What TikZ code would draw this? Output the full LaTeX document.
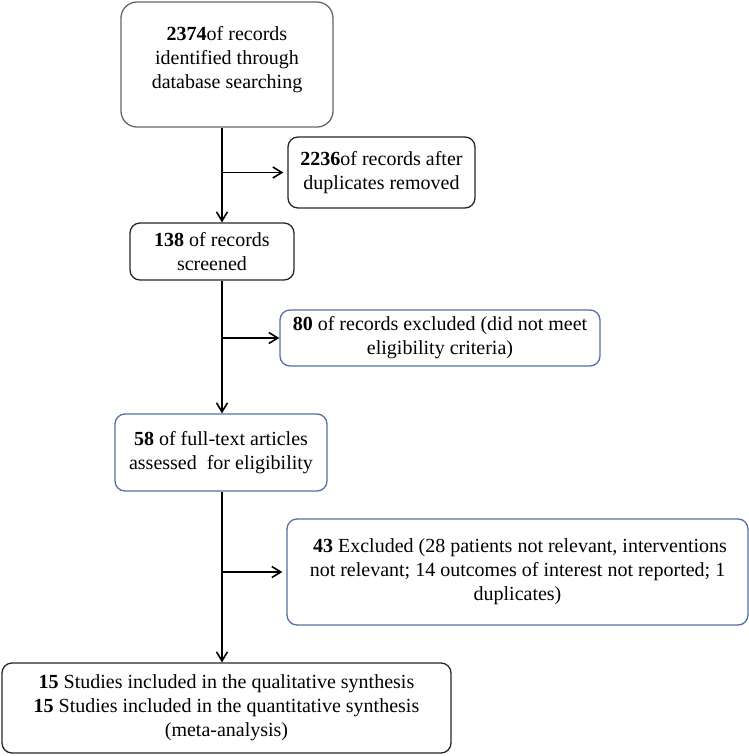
\documentclass[tikz,border=0pt]{standalone}
\usepackage{fontspec}
\setmainfont{Liberation Serif}
\usetikzlibrary{arrows.meta}
\definecolor{boxblue}{RGB}{84,112,160}
\begin{document}
\begin{tikzpicture}[x=0.5pt,y=-0.5pt,
  flowbox/.style={draw=black!85, line width=0.65pt, rounded corners=5pt, align=center,
    inner sep=0pt, font=\fontsize{10}{12}\selectfont},
  bluebox/.style={flowbox, draw=boxblue},
  flow/.style={line width=0.8pt, -{Straight Barb[length=4.5pt,width=5.5pt]}}]
\useasboundingbox (0,0) rectangle (749,756);
\coordinate (spine) at (222,0);
\node[flowbox, draw=black!60, rounded corners=8pt, minimum width=106pt, minimum height=62.5pt] (ident) at (227,64.5)
  {\textbf{2374}of records\\identified through\\database searching\rule[-7pt]{0pt}{7pt}};
\node[flowbox, minimum width=93.5pt, minimum height=35.5pt] (dup) at (381.5,172.5)
  {\textbf{2236}of records after\\duplicates removed};
\node[flowbox, minimum width=82pt, minimum height=28.5pt] (screen) at (212,251.5)
  {\textbf{138} of records\\screened};
\node[bluebox, minimum width=160pt, minimum height=28pt] (excl) at (440,338)
  {\textbf{80} of records excluded (did not meet\\eligibility criteria)};
\node[bluebox, minimum width=106pt, minimum height=38.5pt] (full) at (221,452.5)
  {\textbf{58} of full-text articles\\assessed\ \ for eligibility};
\node[bluebox, minimum width=230.5pt, minimum height=53pt] (exclft) at (517.5,572)
  {\ \textbf{43} Excluded (28 patients not relevant, interventions\\
   not relevant; 14 outcomes of interest not reported; 1\\duplicates)};
\node[flowbox, minimum width=224.5pt, minimum height=45pt] (incl) at (226.5,708)
  {\textbf{15} Studies included in the qualitative synthesis\\
   \textbf{15} Studies included in the quantitative synthesis\\(meta-analysis)};
% main line
\draw[flow] (ident.south -| spine) -- (screen.north -| spine);
\draw[flow] (screen.south -| spine) -- (full.north -| spine);
\draw[flow] (full.south -| spine) -- (incl.north -| spine);
% side branches
\draw[flow, shorten >=2pt] (dup.west -| spine) -- (dup.west);
\draw[flow] (excl.west -| spine) -- (excl.west);
\draw[flow, shorten >=2pt] (exclft.west -| spine) -- (exclft.west);
\end{tikzpicture}
\end{document}
